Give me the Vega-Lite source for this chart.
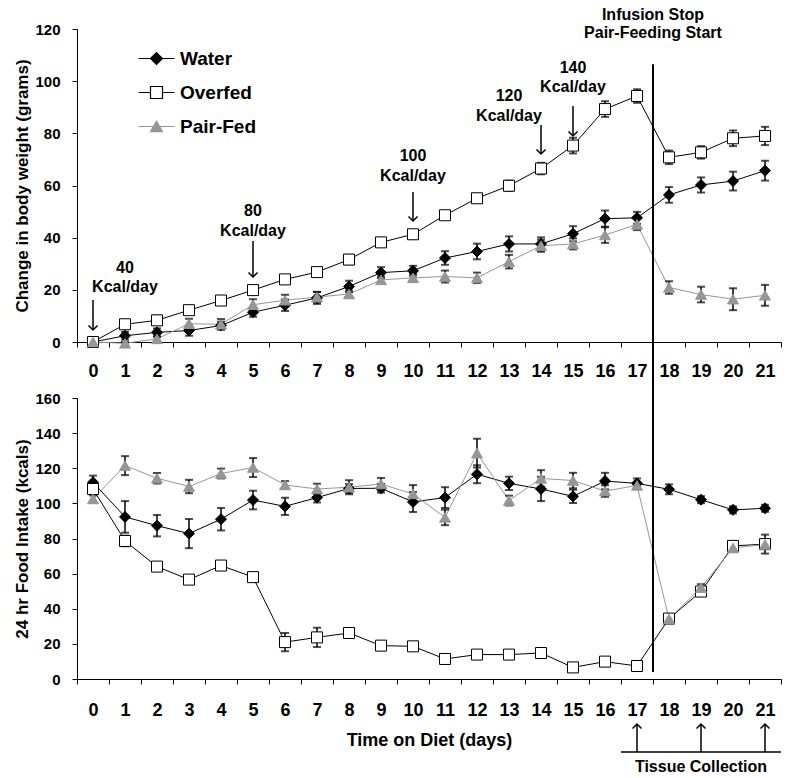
{
  "$schema": "https://vega.github.io/schema/vega-lite/v6.json",
  "padding": {"left": 13, "top": 6, "right": 0, "bottom": 0},
  "background": "white",
  "config": {
    "font": "Liberation Sans",
    "view": {"stroke": null},
    "axis": {"domainColor": "black", "tickColor": "black", "labelColor": "black", "titleColor": "black", "labelFontWeight": "bold", "titleFontWeight": "bold", "grid": false, "tickSize": 5, "domainWidth": 1, "tickWidth": 1, "labelOverlap": false},
    "text": {"font": "Liberation Sans", "fontWeight": "bold", "fontSize": 16, "color": "black"}
  },
  "datasets": {
    "bw": [
      {"day":0,"series":"Water","v":0,"e":0},{"day":1,"series":"Water","v":2.4,"e":1.5},{"day":2,"series":"Water","v":3.7,"e":1.5},{"day":3,"series":"Water","v":4.4,"e":2.0},{"day":4,"series":"Water","v":6.3,"e":1.5},{"day":5,"series":"Water","v":11.4,"e":1.7},{"day":6,"series":"Water","v":14.1,"e":2.2},{"day":7,"series":"Water","v":16.9,"e":2.3},{"day":8,"series":"Water","v":21.3,"e":2.2},{"day":9,"series":"Water","v":26.6,"e":2.1},{"day":10,"series":"Water","v":27.3,"e":1.9},{"day":11,"series":"Water","v":32.2,"e":2.6},{"day":12,"series":"Water","v":34.7,"e":3.0},{"day":13,"series":"Water","v":37.6,"e":2.9},{"day":14,"series":"Water","v":37.6,"e":2.5},{"day":15,"series":"Water","v":41.5,"e":2.9},{"day":16,"series":"Water","v":47.3,"e":3.1},{"day":17,"series":"Water","v":47.6,"e":2.3},{"day":18,"series":"Water","v":56.4,"e":3.0},{"day":19,"series":"Water","v":60.2,"e":2.9},{"day":20,"series":"Water","v":61.7,"e":3.6},{"day":21,"series":"Water","v":65.7,"e":3.8},
      {"day":0,"series":"Overfed","v":0,"e":0},{"day":1,"series":"Overfed","v":6.8,"e":1.0},{"day":2,"series":"Overfed","v":8.3,"e":1.8},{"day":3,"series":"Overfed","v":12.2,"e":1.2},{"day":4,"series":"Overfed","v":15.9,"e":1.0},{"day":5,"series":"Overfed","v":19.9,"e":1.2},{"day":6,"series":"Overfed","v":24.0,"e":1.3},{"day":7,"series":"Overfed","v":26.8,"e":1.5},{"day":8,"series":"Overfed","v":31.6,"e":1.8},{"day":9,"series":"Overfed","v":38.2,"e":1.5},{"day":10,"series":"Overfed","v":41.3,"e":1.5},{"day":11,"series":"Overfed","v":48.6,"e":1.3},{"day":12,"series":"Overfed","v":55.1,"e":1.5},{"day":13,"series":"Overfed","v":59.9,"e":2.0},{"day":14,"series":"Overfed","v":66.5,"e":2.2},{"day":15,"series":"Overfed","v":75.3,"e":3.0},{"day":16,"series":"Overfed","v":89.3,"e":3.0},{"day":17,"series":"Overfed","v":94.3,"e":2.6},{"day":18,"series":"Overfed","v":70.8,"e":2.6},{"day":19,"series":"Overfed","v":72.7,"e":2.4},{"day":20,"series":"Overfed","v":78.1,"e":3.0},{"day":21,"series":"Overfed","v":79.0,"e":3.5},
      {"day":0,"series":"Pair-Fed","v":0,"e":0},{"day":1,"series":"Pair-Fed","v":-0.5,"e":0.5},{"day":2,"series":"Pair-Fed","v":1.2,"e":0.8},{"day":3,"series":"Pair-Fed","v":7.0,"e":1.9},{"day":4,"series":"Pair-Fed","v":6.8,"e":2.0},{"day":5,"series":"Pair-Fed","v":14.3,"e":2.1},{"day":6,"series":"Pair-Fed","v":16.0,"e":2.1},{"day":7,"series":"Pair-Fed","v":17.2,"e":2.0},{"day":8,"series":"Pair-Fed","v":18.4,"e":1.3},{"day":9,"series":"Pair-Fed","v":23.8,"e":1.3},{"day":10,"series":"Pair-Fed","v":24.6,"e":1.5},{"day":11,"series":"Pair-Fed","v":25.1,"e":2.3},{"day":12,"series":"Pair-Fed","v":24.6,"e":2.0},{"day":13,"series":"Pair-Fed","v":30.8,"e":2.6},{"day":14,"series":"Pair-Fed","v":36.9,"e":2.3},{"day":15,"series":"Pair-Fed","v":37.6,"e":2.1},{"day":16,"series":"Pair-Fed","v":41.0,"e":3.0},{"day":17,"series":"Pair-Fed","v":45.1,"e":2.2},{"day":18,"series":"Pair-Fed","v":20.9,"e":2.4},{"day":19,"series":"Pair-Fed","v":18.2,"e":3.0},{"day":20,"series":"Pair-Fed","v":16.4,"e":4.2},{"day":21,"series":"Pair-Fed","v":17.9,"e":4.0}
    ],
    "fi": [
      {"day":0,"series":"Water","v":112.0,"e":3.8},{"day":1,"series":"Water","v":92.3,"e":9.0},{"day":2,"series":"Water","v":87.3,"e":6.1},{"day":3,"series":"Water","v":82.8,"e":8.3},{"day":4,"series":"Water","v":91.0,"e":6.4},{"day":5,"series":"Water","v":101.9,"e":5.3},{"day":6,"series":"Water","v":98.3,"e":4.9},{"day":7,"series":"Water","v":103.3,"e":2.8},{"day":8,"series":"Water","v":108.5,"e":2.5},{"day":9,"series":"Water","v":108.6,"e":2.5},{"day":10,"series":"Water","v":100.8,"e":5.7},{"day":11,"series":"Water","v":103.3,"e":5.9},{"day":12,"series":"Water","v":116.6,"e":5.1},{"day":13,"series":"Water","v":111.4,"e":3.8},{"day":14,"series":"Water","v":108.2,"e":6.9},{"day":15,"series":"Water","v":104.0,"e":3.8},{"day":16,"series":"Water","v":112.7,"e":4.7},{"day":17,"series":"Water","v":111.4,"e":2.8},{"day":18,"series":"Water","v":108.0,"e":2.8},{"day":19,"series":"Water","v":102.1,"e":2.0},{"day":20,"series":"Water","v":96.3,"e":2.0},{"day":21,"series":"Water","v":97.2,"e":2.0},
      {"day":0,"series":"Overfed","v":108.2,"e":2.0},{"day":1,"series":"Overfed","v":78.6,"e":3.0},{"day":2,"series":"Overfed","v":64.0,"e":1.5},{"day":3,"series":"Overfed","v":56.6,"e":1.2},{"day":4,"series":"Overfed","v":64.6,"e":1.8},{"day":5,"series":"Overfed","v":58.0,"e":1.2},{"day":6,"series":"Overfed","v":21.0,"e":5.2},{"day":7,"series":"Overfed","v":23.7,"e":5.5},{"day":8,"series":"Overfed","v":26.2,"e":1.5},{"day":9,"series":"Overfed","v":19.0,"e":1.0},{"day":10,"series":"Overfed","v":18.6,"e":1.0},{"day":11,"series":"Overfed","v":11.4,"e":1.2},{"day":12,"series":"Overfed","v":13.9,"e":1.0},{"day":13,"series":"Overfed","v":13.9,"e":1.0},{"day":14,"series":"Overfed","v":14.8,"e":1.0},{"day":15,"series":"Overfed","v":6.6,"e":1.0},{"day":16,"series":"Overfed","v":9.9,"e":1.0},{"day":17,"series":"Overfed","v":7.4,"e":1.0},{"day":18,"series":"Overfed","v":34.4,"e":2.0},{"day":19,"series":"Overfed","v":49.8,"e":2.0},{"day":20,"series":"Overfed","v":75.8,"e":2.5},{"day":21,"series":"Overfed","v":76.8,"e":5.4},
      {"day":0,"series":"Pair-Fed","v":102.5,"e":2.0},{"day":1,"series":"Pair-Fed","v":121.5,"e":5.4},{"day":2,"series":"Pair-Fed","v":114.3,"e":3.0},{"day":3,"series":"Pair-Fed","v":109.6,"e":3.8},{"day":4,"series":"Pair-Fed","v":117.0,"e":2.8},{"day":5,"series":"Pair-Fed","v":120.4,"e":5.4},{"day":6,"series":"Pair-Fed","v":110.5,"e":2.2},{"day":7,"series":"Pair-Fed","v":108.2,"e":3.0},{"day":8,"series":"Pair-Fed","v":109.2,"e":4.0},{"day":9,"series":"Pair-Fed","v":111.0,"e":3.5},{"day":10,"series":"Pair-Fed","v":105.4,"e":5.0},{"day":11,"series":"Pair-Fed","v":92.0,"e":4.4},{"day":12,"series":"Pair-Fed","v":128.6,"e":8.2},{"day":13,"series":"Pair-Fed","v":101.6,"e":2.8},{"day":14,"series":"Pair-Fed","v":114.2,"e":4.7},{"day":15,"series":"Pair-Fed","v":113.0,"e":4.4},{"day":16,"series":"Pair-Fed","v":107.0,"e":3.3},{"day":17,"series":"Pair-Fed","v":110.2,"e":2.0},{"day":18,"series":"Pair-Fed","v":34.2,"e":2.0},{"day":19,"series":"Pair-Fed","v":52.0,"e":2.0},{"day":20,"series":"Pair-Fed","v":74.6,"e":2.0},{"day":21,"series":"Pair-Fed","v":76.6,"e":2.0}
    ],
    "notes": [
      {"day":1,"v":28.4,"label":"40\nKcal/day"},
      {"day":5,"v":50.2,"label":"80\nKcal/day"},
      {"day":10,"v":71.3,"label":"100\nKcal/day"},
      {"day":13,"v":94.3,"label":"120\nKcal/day"},
      {"day":15,"v":105.1,"label":"140\nKcal/day"}
    ],
    "arrows": [
      {"day":0,"from":16.1,"to":4.6},
      {"day":5,"from":38.7,"to":24.9},
      {"day":10,"from":57.5,"to":46.4},
      {"day":14,"from":83.2,"to":72.1},
      {"day":15,"from":90.5,"to":79.0}
    ],
    "tissue": [
      {"day":17,"from":-41.6,"to":-25.6},
      {"day":19,"from":-41.6,"to":-25.6},
      {"day":21,"from":-41.6,"to":-25.6}
    ]
  },
  "spacing": 56,
  "bounds": "flush",
  "vconcat": [
    {
      "width": 704,
      "height": 313,
      "resolve": {"scale": {"shape": "independent", "fill": "independent", "stroke": "independent"}},
      "layer": [
        {
          "data": {"name": "bw"},
          "mark": {"type": "line", "strokeWidth": 1},
          "encoding": {
            "x": {"field": "day", "type": "ordinal", "scale": {"domain": [0,1,2,3,4,5,6,7,8,9,10,11,12,13,14,15,16,17,18,19,20,21], "paddingInner": 0, "paddingOuter": 0}, "axis": {"title": null, "labelAngle": 0, "labelFontSize": 18, "labelPadding": 15, "tickBand": "extent"}},
            "y": {"field": "v", "type": "quantitative", "title": "Change in body weight (grams)", "scale": {"domain": [0,120], "nice": false, "zero": false}, "axis": {"values": [0,20,40,60,80,100,120], "tickCount": 7, "labelFontSize": 15, "labelPadding": 12, "titleFontSize": 17, "titlePadding": 3}},
            "detail": {"field": "series"},
            "stroke": {"condition": {"test": "datum.series === 'Pair-Fed'", "value": "#969696"}, "value": "#000000"}
          }
        },
        {
          "data": {"name": "bw"},
          "mark": {"type": "errorbar", "color": "black", "thickness": 1.5, "ticks": {"size": 8, "thickness": 2, "color": "black"}},
          "encoding": {
            "x": {"field": "day", "type": "ordinal"},
            "y": {"field": "v", "type": "quantitative", "title": "Change in body weight (grams)", "axis": {"values": [0,20,40,60,80,100,120], "tickCount": 7, "labelFontSize": 15, "labelPadding": 12, "titleFontSize": 17, "titlePadding": 3}},
            "yError": {"field": "e"},
            "detail": {"field": "series"}
          }
        },
        {
          "data": {"name": "bw"},
          "mark": {"type": "point", "filled": true, "size": 121, "strokeWidth": 1, "opacity": 1},
          "encoding": {
            "x": {"field": "day", "type": "ordinal"},
            "y": {"field": "v", "type": "quantitative", "title": "Change in body weight (grams)"},
            "shape": {"field": "series", "type": "nominal", "scale": {"domain": ["Water","Overfed","Pair-Fed"], "range": ["diamond","square","triangle-up"]}, "legend": null},
            "fill": {"field": "series", "type": "nominal", "scale": {"domain": ["Water","Overfed","Pair-Fed"], "range": ["#000000","#ffffff","#969696"]}, "legend": null},
            "stroke": {"field": "series", "type": "nominal", "scale": {"domain": ["Water","Overfed","Pair-Fed"], "range": ["#000000","#000000","#969696"]}, "legend": null}
          }
        },
        {
          "data": {"name": "bw"},
          "transform": [{"filter": "datum.day === 0"}],
          "mark": {"type": "point", "filled": true, "opacity": 0},
          "encoding": {
            "x": {"field": "day", "type": "ordinal"},
            "y": {"field": "v", "type": "quantitative", "title": "Change in body weight (grams)"},
            "shape": {"field": "series", "type": "nominal", "scale": {"domain": ["Water","Overfed","Pair-Fed"], "range": ["M-3,0H3M-1,0L0,-1L1,0L0,1Z", "M-3,0H-1M-1,-1H1V1H-1ZM1,0H3", "M-3,0H3M0,-0.866L-1,0.866L1,0.866Z"]},
              "legend": {"title": null, "orient": "none", "legendX": 70, "legendY": 20, "labelFontSize": 19, "labelFontWeight": "bold", "labelColor": "black", "labelOffset": 14, "rowPadding": 14, "symbolSize": 144, "symbolOpacity": 1, "symbolStrokeWidth": 1.2}},
            "fill": {"field": "series", "type": "nominal", "scale": {"domain": ["Water","Overfed","Pair-Fed"], "range": ["#000000","#ffffff","#969696"]},
              "legend": {"title": null, "orient": "none", "legendX": 70, "legendY": 20, "labelFontSize": 19, "labelFontWeight": "bold", "labelColor": "black", "labelOffset": 14, "rowPadding": 14, "symbolSize": 144, "symbolOpacity": 1, "symbolStrokeWidth": 1.2}},
            "stroke": {"field": "series", "type": "nominal", "scale": {"domain": ["Water","Overfed","Pair-Fed"], "range": ["#000000","#000000","#969696"]},
              "legend": {"title": null, "orient": "none", "legendX": 70, "legendY": 20, "labelFontSize": 19, "labelFontWeight": "bold", "labelColor": "black", "labelOffset": 14, "rowPadding": 14, "symbolSize": 144, "symbolOpacity": 1, "symbolStrokeWidth": 1.2}}
          }
        },
        {
          "data": {"name": "arrows"},
          "mark": {"type": "rule", "strokeWidth": 1.5, "color": "black"},
          "encoding": {
            "x": {"field": "day", "type": "ordinal"},
            "y": {"field": "from", "type": "quantitative", "title": "Change in body weight (grams)"},
            "y2": {"field": "to"}
          }
        },
        {
          "data": {"name": "arrows"},
          "mark": {"type": "point", "shape": "M-1,-1L0,0L1,-1", "filled": false, "size": 81, "strokeWidth": 1.5, "color": "black", "opacity": 1},
          "encoding": {
            "x": {"field": "day", "type": "ordinal"},
            "y": {"field": "to", "type": "quantitative", "title": "Change in body weight (grams)"}
          }
        },
        {
          "data": {"name": "notes"},
          "mark": {"type": "text", "lineBreak": "\n", "lineHeight": 19.5, "baseline": "middle", "align": "center"},
          "encoding": {
            "x": {"field": "day", "type": "ordinal"},
            "y": {"field": "v", "type": "quantitative", "title": "Change in body weight (grams)"},
            "text": {"field": "label"}
          }
        },
        {
          "data": {"values": [{"label": "Infusion Stop\nPair-Feeding Start"}]},
          "mark": {"type": "text", "lineBreak": "\n", "lineHeight": 18.5, "baseline": "middle", "align": "center"},
          "encoding": {
            "x": {"datum": 17, "type": "ordinal", "bandPosition": 1},
            "y": {"datum": 125.4, "type": "quantitative", "title": "Change in body weight (grams)"},
            "text": {"field": "label"}
          }
        }
      ]
    },
    {
      "width": 704,
      "height": 281,
      "layer": [
        {
          "data": {"name": "fi"},
          "mark": {"type": "line", "strokeWidth": 1},
          "encoding": {
            "x": {"field": "day", "type": "ordinal", "scale": {"domain": [0,1,2,3,4,5,6,7,8,9,10,11,12,13,14,15,16,17,18,19,20,21], "paddingInner": 0, "paddingOuter": 0}, "axis": {"title": "Time on Diet (days)", "titleFontSize": 18, "titlePadding": 12, "labelAngle": 0, "labelFontSize": 18, "labelPadding": 17, "tickBand": "extent"}},
            "y": {"field": "v", "type": "quantitative", "title": "24 hr Food Intake (kcals)", "scale": {"domain": [0,160], "nice": false, "zero": false}, "axis": {"values": [0,20,40,60,80,100,120,140,160], "tickCount": 9, "labelFontSize": 15, "labelPadding": 12, "titleFontSize": 17, "titlePadding": 3}},
            "detail": {"field": "series"},
            "stroke": {"condition": {"test": "datum.series === 'Pair-Fed'", "value": "#969696"}, "value": "#000000"}
          }
        },
        {
          "data": {"name": "fi"},
          "mark": {"type": "errorbar", "color": "black", "thickness": 1.5, "ticks": {"size": 8, "thickness": 2, "color": "black"}},
          "encoding": {
            "x": {"field": "day", "type": "ordinal"},
            "y": {"field": "v", "type": "quantitative", "title": "24 hr Food Intake (kcals)", "axis": {"values": [0,20,40,60,80,100,120,140,160], "tickCount": 9, "labelFontSize": 15, "labelPadding": 12, "titleFontSize": 17, "titlePadding": 3}},
            "yError": {"field": "e"},
            "detail": {"field": "series"}
          }
        },
        {
          "data": {"name": "fi"},
          "mark": {"type": "point", "filled": true, "size": 121, "strokeWidth": 1, "opacity": 1},
          "encoding": {
            "x": {"field": "day", "type": "ordinal"},
            "y": {"field": "v", "type": "quantitative", "title": "24 hr Food Intake (kcals)", "axis": {"values": [0,20,40,60,80,100,120,140,160], "tickCount": 9, "labelFontSize": 15, "labelPadding": 12, "titleFontSize": 17, "titlePadding": 3}},
            "shape": {"field": "series", "type": "nominal", "scale": {"domain": ["Water","Overfed","Pair-Fed"], "range": ["diamond","square","triangle-up"]}, "legend": null},
            "fill": {"field": "series", "type": "nominal", "scale": {"domain": ["Water","Overfed","Pair-Fed"], "range": ["#000000","#ffffff","#969696"]}, "legend": null},
            "stroke": {"field": "series", "type": "nominal", "scale": {"domain": ["Water","Overfed","Pair-Fed"], "range": ["#000000","#000000","#969696"]}, "legend": null}
          }
        },
        {
          "data": {"values": [{}]},
          "mark": {"type": "rule", "strokeWidth": 2, "color": "black"},
          "encoding": {
            "x": {"datum": 17, "type": "ordinal", "bandPosition": 1},
            "y": {"datum": 4, "type": "quantitative", "title": "24 hr Food Intake (kcals)", "axis": {"values": [0,20,40,60,80,100,120,140,160], "tickCount": 9, "labelFontSize": 15, "labelPadding": 12, "titleFontSize": 17, "titlePadding": 3}},
            "y2": {"datum": 350}
          }
        },
        {
          "data": {"values": [{}]},
          "mark": {"type": "rule", "strokeWidth": 1.5, "color": "black"},
          "encoding": {
            "x": {"datum": 17, "type": "ordinal", "bandPosition": 0},
            "x2": {"datum": 21, "bandPosition": 1},
            "y": {"datum": -41.6, "type": "quantitative", "title": "24 hr Food Intake (kcals)", "axis": {"values": [0,20,40,60,80,100,120,140,160], "tickCount": 9, "labelFontSize": 15, "labelPadding": 12, "titleFontSize": 17, "titlePadding": 3}}
          }
        },
        {
          "data": {"name": "tissue"},
          "mark": {"type": "rule", "strokeWidth": 1.5, "color": "black"},
          "encoding": {
            "x": {"field": "day", "type": "ordinal"},
            "y": {"field": "from", "type": "quantitative", "title": "24 hr Food Intake (kcals)", "axis": {"values": [0,20,40,60,80,100,120,140,160], "tickCount": 9, "labelFontSize": 15, "labelPadding": 12, "titleFontSize": 17, "titlePadding": 3}},
            "y2": {"field": "to"}
          }
        },
        {
          "data": {"name": "tissue"},
          "mark": {"type": "point", "shape": "M-1,1L0,0L1,1", "filled": false, "size": 81, "strokeWidth": 1.5, "color": "black", "opacity": 1},
          "encoding": {
            "x": {"field": "day", "type": "ordinal"},
            "y": {"field": "to", "type": "quantitative", "title": "24 hr Food Intake (kcals)", "axis": {"values": [0,20,40,60,80,100,120,140,160], "tickCount": 9, "labelFontSize": 15, "labelPadding": 12, "titleFontSize": 17, "titlePadding": 3}}
          }
        },
        {
          "data": {"values": [{"label": "Tissue Collection"}]},
          "mark": {"type": "text", "baseline": "middle", "align": "center"},
          "encoding": {
            "x": {"datum": 19, "type": "ordinal"},
            "y": {"datum": -50.1, "type": "quantitative", "title": "24 hr Food Intake (kcals)", "axis": {"values": [0,20,40,60,80,100,120,140,160], "tickCount": 9, "labelFontSize": 15, "labelPadding": 12, "titleFontSize": 17, "titlePadding": 3}},
            "text": {"field": "label"}
          }
        }
      ]
    }
  ]
}
